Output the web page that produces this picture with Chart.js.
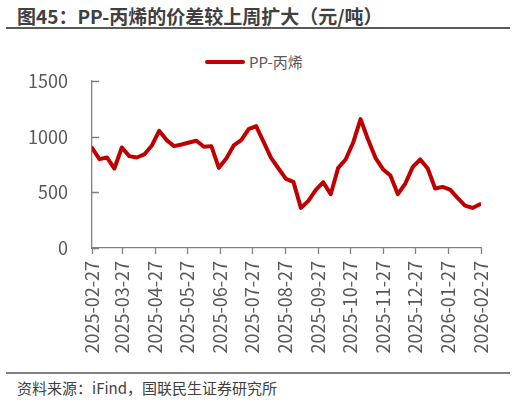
<!DOCTYPE html>
<html lang="zh-CN">
<head>
<meta charset="UTF-8">
<title>PP-丙烯价差</title>
<style>
    body {
        margin: 0;
        width: 516px;
        height: 401px;
        position: relative;
        background: #fff;
        font-family: "Noto Sans CJK SC", sans-serif;
        overflow: hidden;
    }
    #title {
        position: absolute; left: 17px; top: 2px;
        font-size: 19px; font-weight: bold; color: #404040; white-space: nowrap;
    }
    #rule1 { position: absolute; left: 6px; top: 27px; width: 504px; height: 2px; background: #595959; }
    #legend {
        position: absolute; left: 205px; top: 51px;
        font-size: 15px; color: #595959; white-space: nowrap;
    }
    #legend span.sw {
        display: inline-block; width: 40px; height: 4px; background: #C00000;
        border-radius: 2px; vertical-align: middle; margin-right: 4px; position: relative; top: -2px;
    }
    #wrap { position: absolute; left: 0; top: 40px; width: 516px; height: 330px; }
    #rule2 { position: absolute; left: 6px; top: 372px; width: 504px; height: 1.5px; background: #7f7f7f; }
    #source { position: absolute; left: 17px; top: 377px; font-size: 15px; color: #404040; white-space: nowrap; }
</style>
</head>
<body>
<div id="title">图45：PP-丙烯的价差较上周扩大（元/吨）</div>
<div id="rule1"></div>
<div id="legend"><span class="sw"></span>PP-丙烯</div>
<div id="wrap"><canvas id="chart" width="516" height="330"></canvas></div>
<div id="rule2"></div>
<div id="source">资料来源：iFind，国联民生证券研究所</div>

<script src="https://cdn.jsdelivr.net/npm/chart.js"></script>
<script>
    const dates = [
        "2025-02-27", "2025-03-06", "2025-03-13", "2025-03-20", "2025-03-27",
        "2025-04-03", "2025-04-10", "2025-04-17", "2025-04-24",
        "2025-05-01", "2025-05-08", "2025-05-15", "2025-05-22", "2025-05-29",
        "2025-06-05", "2025-06-12", "2025-06-19", "2025-06-26",
        "2025-07-03", "2025-07-10", "2025-07-17", "2025-07-24", "2025-07-31",
        "2025-08-07", "2025-08-14", "2025-08-21", "2025-08-28",
        "2025-09-04", "2025-09-11", "2025-09-18", "2025-09-25",
        "2025-10-02", "2025-10-09", "2025-10-16", "2025-10-23", "2025-10-30",
        "2025-11-06", "2025-11-13", "2025-11-20", "2025-11-27",
        "2025-12-04", "2025-12-11", "2025-12-18", "2025-12-25",
        "2026-01-01", "2026-01-08", "2026-01-15", "2026-01-22", "2026-01-29",
        "2026-02-05", "2026-02-12", "2026-02-19", "2026-02-26"
    ];
    const spread = [
        900, 798, 813, 714, 903,
        825, 813, 840, 918,
        1053, 969, 915, 930, 948,
        963, 909, 915, 720,
        804, 921, 969, 1068, 1095,
        954, 810, 714, 621,
        594, 360, 423, 522,
        591, 483, 720, 795, 945,
        1158, 975, 810, 708,
        651, 483, 579, 729,
        795, 714, 534, 549, 525,
        450, 381, 360, 393
    ];
    const tickLabels = [
        "2025-02-27", "2025-03-27", "2025-04-27", "2025-05-27", "2025-06-27",
        "2025-07-27", "2025-08-27", "2025-09-27", "2025-10-27", "2025-11-27",
        "2025-12-27", "2026-01-27", "2026-02-27"
    ];
    const yTicks = [0, 500, 1000, 1500];

    // days since the first date, so the x axis keeps real calendar spacing
    const DAY = 86400000;
    const t0 = Date.parse(dates[0]);
    const toDay = s => Math.round((Date.parse(s) - t0) / DAY);
    const tickDays = tickLabels.map(toDay);
    const points = dates.map((d, i) => ({ x: toDay(d), y: spread[i] }));

    const axisColor = "#808080";
    const labelColor = "#595959";

    // y ticks point into the plot, x ticks hang below the axis
    const tickMarks = {
        id: "tickMarks",
        afterDraw(chart) {
            const { ctx, chartArea } = chart;
            const xs = chart.scales.x, ys = chart.scales.y;
            ctx.save();
            ctx.strokeStyle = axisColor;
            ctx.lineWidth = 1.3;
            ctx.beginPath();
            yTicks.forEach(v => {
                const py = Math.round(ys.getPixelForValue(v)) + 0.5;
                ctx.moveTo(chartArea.left, py);
                ctx.lineTo(chartArea.left + 7, py);
            });
            tickDays.forEach(d => {
                const px = Math.round(xs.getPixelForValue(d)) + 0.5;
                ctx.moveTo(px, chartArea.bottom);
                ctx.lineTo(px, chartArea.bottom + 6);
            });
            ctx.stroke();
            ctx.restore();
        }
    };

    new Chart(document.getElementById("chart"), {
        type: "line",
        data: {
            datasets: [{
                label: "PP-丙烯",
                data: points,
                borderColor: "#C00000",
                borderWidth: 4,
                borderJoinStyle: "round",
                borderCapStyle: "round",
                pointRadius: 0,
                tension: 0,
                fill: false
            }]
        },
        options: {
            responsive: false,
            animation: false,
            layout: { padding: { left: 0, top: 41, right: 35, bottom: 0 } },
            plugins: {
                legend: { display: false },
                tooltip: { enabled: false }
            },
            scales: {
                x: {
                    type: "linear",
                    min: 0,
                    max: tickDays[tickDays.length - 1],
                    afterBuildTicks: scale => { scale.ticks = tickDays.map(v => ({ value: v })); },
                    afterFit: scale => { scale.height = 122; },
                    grid: { display: false, drawTicks: false },
                    border: { display: true, color: axisColor, width: 1.3 },
                    ticks: {
                        autoSkip: false,
                        minRotation: 90,
                        maxRotation: 90,
                        padding: 13,
                        color: labelColor,
                        font: { family: "'Noto Sans CJK SC', sans-serif", size: 18 },
                        callback: (v, i) => tickLabels[i]
                    }
                },
                y: {
                    min: 0,
                    max: 1500,
                    afterBuildTicks: scale => { scale.ticks = yTicks.map(v => ({ value: v })); },
                    afterFit: scale => { scale.width = 92; },
                    grid: { display: false, drawTicks: false },
                    border: { display: true, color: axisColor, width: 1.3 },
                    ticks: {
                        padding: 24,
                        color: labelColor,
                        font: { family: "'Noto Sans CJK SC', sans-serif", size: 18 },
                        callback: v => String(v)
                    }
                }
            }
        },
        plugins: [tickMarks]
    });
</script>
</body>
</html>
